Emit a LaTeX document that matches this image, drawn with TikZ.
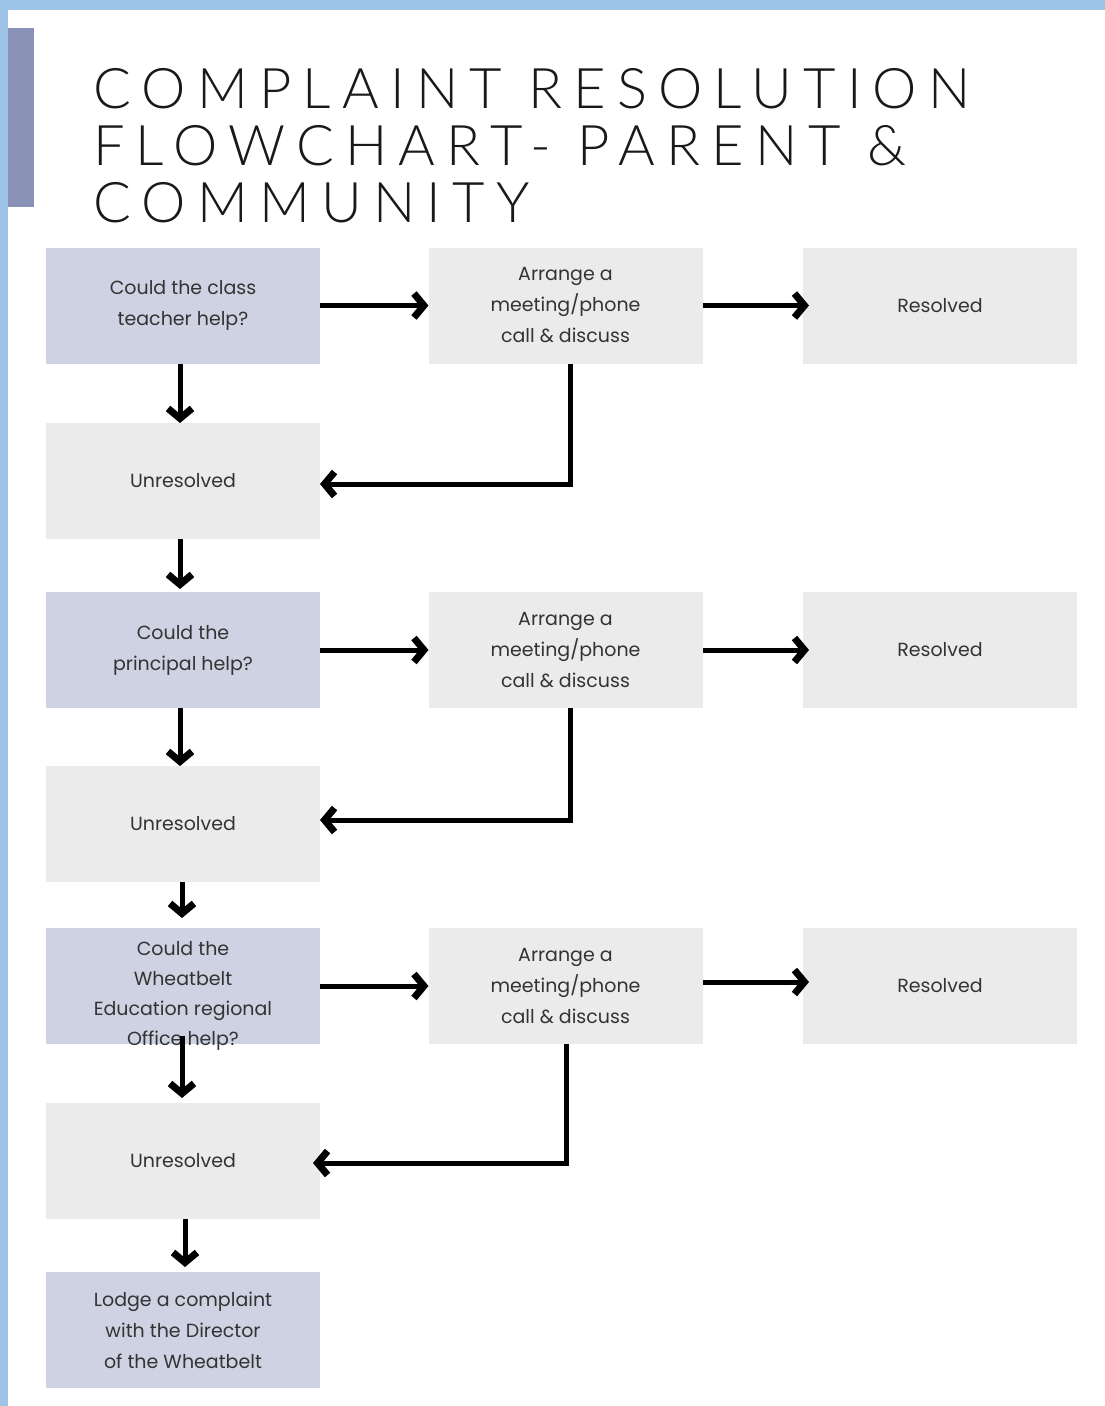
\documentclass[tikz,border=0pt]{standalone}
\usepackage{fontspec}
\setmainfont{Poppins}
\newfontfamily\titlefont[LetterSpace=20]{Lato Light}
\usetikzlibrary{arrows.meta}
\definecolor{frameblue}{HTML}{9DC3E6}
\definecolor{barpurple}{HTML}{8A91B6}
\definecolor{qfill}{HTML}{CED2E2}
\definecolor{gfill}{HTML}{EBEBEB}
\definecolor{txt}{HTML}{333333}
\tikzset{
  box/.style={minimum width=274pt, minimum height=116pt, inner sep=0pt, outer sep=0pt, align=center, text=txt, font=\fontsize{19}{31}\selectfont},
  qbox/.style={box, fill=qfill},
  gbox/.style={box, fill=gfill},
  flow/.style={line width=5pt, -{Straight Barb[length=10pt,width=24pt,line width=7pt]}},
  tline/.style={anchor=base west, inner sep=0pt, font=\titlefont\fontsize{56}{57}\selectfont, text=black!90}
}
\begin{document}
\begin{tikzpicture}[x=1pt,y=-1pt]
\useasboundingbox (0,0) rectangle (1105,1406);
\fill[white] (0,0) rectangle (1105,1406);
\fill[frameblue] (0,0) rectangle (1105,10);
\fill[frameblue] (0,0) rectangle (8,1406);
\fill[barpurple] (8,28) rectangle (34,207);
\node[tline] (t1) at (93,108) {COMPLAINT RESOLUTION};
\node[tline] (t2) at (93,165) {FLOWCHART- PARENT \&};
\node[tline] (t3) at (93,222) {COMMUNITY};
% row 1
\node[qbox] (q1) at (183,305.5) {Could the class\\teacher help?};
\node[gbox] (a1) at (565.5,305.5) {Arrange a\\meeting/phone\\call \& discuss};
\node[gbox] (r1) at (940,305.5) {Resolved};
\node[gbox] (u1) at (183,481) {Unresolved};
% row 2
\node[qbox] (q2) at (183,650) {Could the\\principal help?};
\node[gbox] (a2) at (565.5,650) {Arrange a\\meeting/phone\\call \& discuss};
\node[gbox] (r2) at (940,650) {Resolved};
\node[gbox] (u2) at (183,824) {Unresolved};
% row 3
\node[qbox] (q3) at (183,986) {};
\node[align=center, font=\fontsize{19}{30}\selectfont, text=txt] (q3t) at (183,996) {Could the\\Wheatbelt\\Education regional\\Office help?};
\node[gbox] (a3) at (565.5,986) {Arrange a\\meeting/phone\\call \& discuss};
\node[gbox] (r3) at (940,986) {Resolved};
\node[gbox] (u3) at (183,1161) {Unresolved};
\node[qbox] (l1) at (183,1330) {Lodge a complaint\\with the Director\\of the Wheatbelt};
% connectors row 1
\draw[flow] (q1.east) -- (a1.west);
\draw[flow] (a1.east) -- ([xshift=6pt]r1.west);
\draw[flow] ([xshift=-3pt]q1.south) -- ([xshift=-3pt]u1.north);
\draw[flow] ([xshift=5pt]a1.south) |- ([yshift=-3pt]u1.east);
\draw[flow] ([xshift=-3pt]u1.south) -- ([xshift=-3pt,yshift=3pt]q2.north);
% row 2
\draw[flow] (q2.east) -- (a2.west);
\draw[flow] (a2.east) -- ([xshift=6pt]r2.west);
\draw[flow] ([xshift=-3pt]q2.south) -- ([xshift=-3pt]u2.north);
\draw[flow] ([xshift=5pt]a2.south) |- ([yshift=4pt]u2.east);
\draw[flow] ([xshift=-1pt]u2.south) -- ([xshift=-1pt,yshift=10pt]q3.north);
% row 3
\draw[flow] (q3.east) -- (a3.west);
\draw[flow] ([yshift=4pt]a3.east) -- ([xshift=6pt,yshift=4pt]r3.west);
\draw[flow] ([xshift=-1pt,yshift=8pt]q3.south) -- ([xshift=-1pt,yshift=5pt]u3.north);
\draw[flow] ([xshift=1pt]a3.south) |- ([xshift=-7pt,yshift=-2pt]u3.east);
\draw[flow] ([xshift=2pt]u3.south) -- ([xshift=2pt,yshift=5pt]l1.north);
\end{tikzpicture}
\end{document}
